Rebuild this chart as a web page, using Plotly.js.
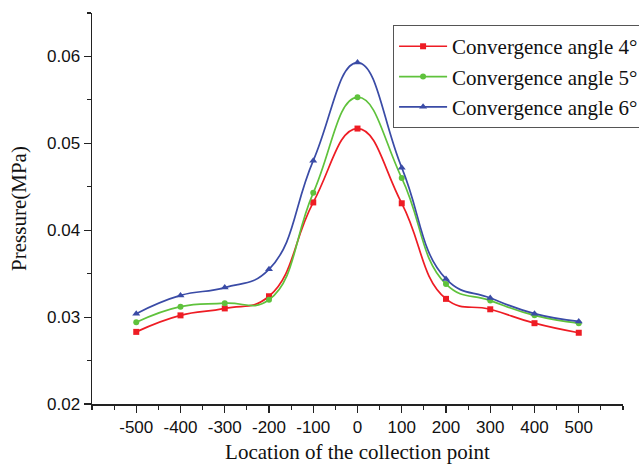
<!DOCTYPE html>
<html>
<head>
<meta charset="utf-8">
<script src="https://cdn.plot.ly/plotly-3.0.1.min.js"></script>
<style>html,body{margin:0;padding:0;background:#fff;}#chart{width:639px;height:464px;}</style>
</head>
<body>
<div id="chart"></div>
<script>
const locations = [-500, -400, -300, -200, -100, 0, 100, 200, 300, 400, 500];
const angle4 = [0.0283, 0.0302, 0.0310, 0.0324, 0.0432, 0.0517, 0.0431, 0.0321, 0.0309, 0.0293, 0.0282];
const angle5 = [0.0294, 0.0312, 0.0316, 0.0320, 0.0443, 0.0553, 0.0460, 0.0338, 0.0319, 0.0302, 0.0293];
const angle6 = [0.0304, 0.0325, 0.0334, 0.0355, 0.0480, 0.0593, 0.0472, 0.0344, 0.0322, 0.0304, 0.0295];
const seriesNames = ['Convergence angle 4°', 'Convergence angle 5°', 'Convergence angle 6°'];
const xTickVals = [-500, -400, -300, -200, -100, 0, 100, 200, 300, 400, 500];
const xTickText = ['-500', '-400', '-300', '-200', '-100', '0', '100', '200', '300', '400', '500'];
const yTickVals = [0.02, 0.03, 0.04, 0.05, 0.06];
const yTickText = ['0.02', '0.03', '0.04', '0.05', '0.06'];

const colors = ['#ee1c24', '#5fc23c', '#3a4ba6'];
const symbols = ['square', 'circle', 'triangle-up'];
const sizes = [6, 6, 7];
const data = [angle4, angle5, angle6].map((ys, i) => ({
  x: locations, y: ys, name: seriesNames[i], type: 'scatter', mode: 'lines+markers',
  line: {color: colors[i], width: 1.7, shape: 'spline', smoothing: 1.3},
  marker: {color: colors[i], symbol: symbols[i], size: sizes[i]}
}));

const serif = 'Liberation Serif, Times New Roman, serif';
const sans = 'Liberation Sans, Arial, sans-serif';
const layout = {
  width: 639, height: 464,
  margin: {l: 92, r: 16, t: 13, b: 60, autoexpand: false},
  paper_bgcolor: '#fff', plot_bgcolor: '#fff',
  showlegend: true,
  legend: {
    x: 0.567, y: 0.969, xanchor: 'left', yanchor: 'top',
    bgcolor: '#fff', bordercolor: '#555', borderwidth: 1,
    font: {family: serif, size: 21, color: '#111'},
    tracegroupgap: 0, itemwidth: 48
  },
  xaxis: {
    range: [-600, 600], tickmode: 'array', tickvals: xTickVals, ticktext: xTickText,
    ticks: 'outside', ticklen: 7, tickwidth: 1.2, tickcolor: '#222',
    showline: true, linecolor: '#222', linewidth: 1.5, showgrid: false, zeroline: false,
    tickfont: {family: sans, size: 17, color: '#111'},
    minor: {dtick: 50, tick0: 0, ticks: 'outside', ticklen: 4, tickwidth: 1.2, tickcolor: '#222', showgrid: false},
    title: {text: 'Location of the collection point', font: {family: serif, size: 21, color: '#111'}, standoff: 12}
  },
  yaxis: {
    range: [0.02, 0.065], tickmode: 'array', tickvals: yTickVals, ticktext: yTickText,
    ticks: 'outside', ticklen: 7, tickwidth: 1.2, tickcolor: '#222',
    showline: true, linecolor: '#222', linewidth: 1.5, showgrid: false, zeroline: false,
    tickfont: {family: sans, size: 17, color: '#111'},
    minor: {dtick: 0.005, tick0: 0, ticks: 'outside', ticklen: 4, tickwidth: 1.2, tickcolor: '#222', showgrid: false},
    title: {text: 'Pressure(MPa)', font: {family: serif, size: 21, color: '#111'}, standoff: 14}
  }
};
Plotly.newPlot('chart', data, layout, {displayModeBar: false, staticPlot: true});
</script>
</body>
</html>
